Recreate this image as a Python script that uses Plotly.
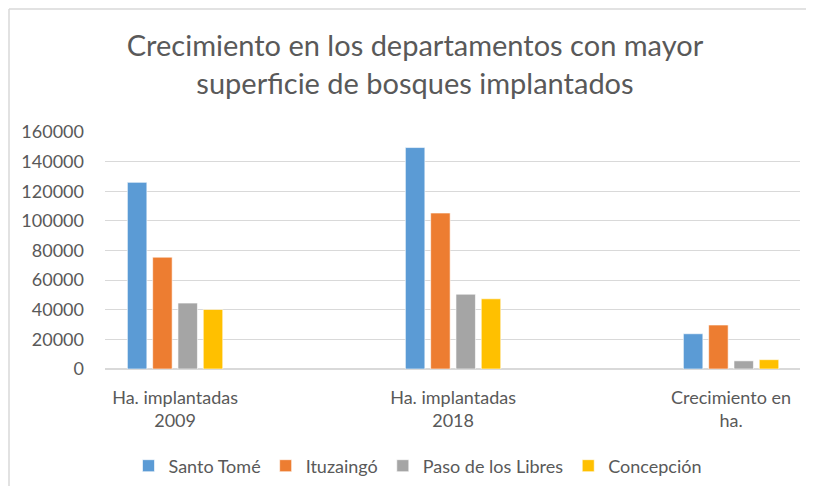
import plotly.graph_objects as go

categories = ["Ha. implantadas<br>2009", "Ha. implantadas<br>2018", "Crecimiento en<br>ha."]
series_names = ["Santo Tomé", "Ituzaingó", "Paso de los Libres", "Concepción"]
santo_tome = [126000, 149500, 23800]
ituzaingo = [75500, 105300, 29700]
paso_libres = [44500, 50500, 5500]
concepcion = [40200, 47400, 6300]
colors = ["#5B9BD5", "#ED7D31", "#A5A5A5", "#FFC000"]
y_ticks = [0, 20000, 40000, 60000, 80000, 100000, 120000, 140000, 160000]

font_family = "Lato, Liberation Sans, Arial, sans-serif"
text_color = "#595959"

fig = go.Figure()
for name, vals, col in zip(series_names, [santo_tome, ituzaingo, paso_libres, concepcion], colors):
    fig.add_trace(go.Bar(
        x=list(range(len(categories))), y=vals, name=name,
        marker=dict(color=col, line=dict(color="rgba(255,255,255,0.6)", width=1)),
    ))

# page body has an 8px margin: figure origin sits at (8, 8) on screen;
# keep the figure inside the viewport so no scrollbars appear
W, H = 798, 478
L, R, T, B = 97, 6, 124, 117
pw = W - L - R
ph = H - T - B
bottom_px = H - B  # y of the zero line in figure px

fig.update_layout(
    width=W, height=H,
    margin=dict(l=L, r=R, t=T, b=B, autoexpand=False),
    paper_bgcolor="white", plot_bgcolor="white",
    barmode="group", bargap=0.636, bargroupgap=0.23,
    font=dict(family=font_family, color=text_color, size=17),
    title=dict(
        text="Crecimiento en los departamentos con mayor<br>superficie de bosques implantados",
        x=407 / W, xanchor="center", xref="container",
        y=1 - 48 / H, yanchor="middle", yref="container",
        font=dict(size=29, color=text_color, family=font_family),
    ),
    showlegend=True,
    legend=dict(
        orientation="h", x=(410 - L) / pw, xanchor="center", xref="paper",
        y=-(458 - bottom_px) / ph, yanchor="middle", yref="paper",
        font=dict(size=18, color=text_color), itemwidth=30,
        traceorder="normal",
    ),
    xaxis=dict(
        range=[-0.252, 2.248], tickvals=[0, 1, 2], ticktext=categories,
        showgrid=False, zeroline=False, showline=False, ticks="",
        ticklabelstandoff=16,
        tickfont=dict(size=18, color=text_color),
    ),
    yaxis=dict(
        range=[0, 160000], tickvals=y_ticks, ticktext=[str(v) for v in y_ticks],
        showgrid=True, gridcolor="#D9D9D9", gridwidth=1.3,
        zeroline=True, zerolinecolor="#D9D9D9", zerolinewidth=1.5,
        showline=False, ticks="", ticklabelstandoff=20,
        tickfont=dict(size=18, color=text_color),
    ),
)

# chart-area frame: only the left and top edges are visible in the reference
border = dict(color="#D9D9D9", width=1.5)
fig.add_shape(type="line", xref="paper", yref="paper",
              x0=(1 - L) / pw, x1=(1 - L) / pw,
              y0=-(H - bottom_px) / ph, y1=(bottom_px - 1) / ph, line=border)
fig.add_shape(type="line", xref="paper", yref="paper",
              x0=(1 - L) / pw, x1=(W - L) / pw,
              y0=(bottom_px - 1) / ph, y1=(bottom_px - 1) / ph, line=border)

fig.write_html("out.html")
